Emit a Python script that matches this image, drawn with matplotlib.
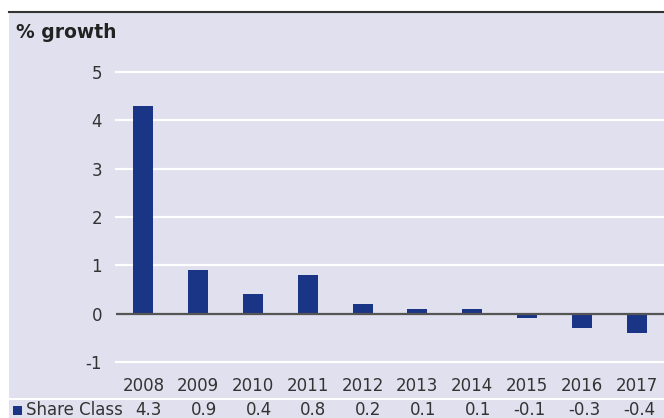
import matplotlib
matplotlib.use("Agg")
import matplotlib.pyplot as plt
from matplotlib.patches import Rectangle
from matplotlib.lines import Line2D

# data
years = ['2008', '2009', '2010', '2011', '2012', '2013', '2014', '2015', '2016', '2017']
growth = [4.3, 0.9, 0.4, 0.8, 0.2, 0.1, 0.1, -0.1, -0.3, -0.4]
value_labels = ['4.3', '0.9', '0.4', '0.8', '0.2', '0.1', '0.1', '-0.1', '-0.3', '-0.4']
yticks = [-1, 0, 1, 2, 3, 4, 5]
series_name = 'Share Class'

W, H = 664, 418
bg = '#e0e0ee'
bar_color = '#1b3586'
text_color = '#333333'

fig = plt.figure(figsize=(W / 100, H / 100), dpi=100, facecolor='white')

def fx(px):
    return px / W

def fy(py):
    return 1 - py / H

# lavender panel + dark rule at the top
fig.patches.append(Rectangle((fx(9), 0), fx(W - 9), fy(12), transform=fig.transFigure,
                             facecolor=bg, edgecolor='none', zorder=-5))
fig.lines.append(Line2D([fx(9), 1], [fy(11.5), fy(11.5)], transform=fig.transFigure,
                        color='#333333', lw=1.5))
# white separator above the table row
fig.lines.append(Line2D([fx(9), 1], [fy(398.5), fy(398.5)], transform=fig.transFigure,
                        color='white', lw=1.5))

fig.text(fx(16), fy(33), '% growth', fontsize=13.5, fontweight='bold',
         color='#222222', va='center', ha='left')

ax_top, ax_bot = 72, 362
ax = fig.add_axes([fx(116), fy(ax_bot), 1 - fx(116), (ax_bot - ax_top) / H])
ax.set_facecolor('none')

x = list(range(len(years)))
ax.set_xlim(-0.5, len(years) - 0.5)
ax.set_ylim(-1, 5)

for t in yticks:
    if t != 0:
        ax.axhline(t, color='white', lw=1.6, zorder=1, clip_on=False)
ax.bar(x, growth, width=0.365, color=bar_color, zorder=2)
ax.axhline(0, color='#555555', lw=1.6, zorder=3)

for s in ax.spines.values():
    s.set_visible(False)
ax.set_yticks(yticks)
ax.set_yticklabels([str(t) for t in yticks])
ax.tick_params(axis='y', length=0, pad=10, labelsize=12, labelcolor=text_color)
ax.set_xticks(x)
ax.set_xticklabels(years)
ax.tick_params(axis='x', length=0, pad=10.5, labelsize=12, labelcolor=text_color)

# table row under the axis labels
trans = ax.get_xaxis_transform()
row_y = (ax_bot - 410) / (ax_bot - ax_top)
for xi, lab in zip(x, value_labels):
    ax.text(xi + 0.34, row_y, lab, transform=trans, ha='right', va='center',
            fontsize=12, color=text_color, clip_on=False)
fig.patches.append(Rectangle((fx(13), fy(415)), fx(9), 9 / H, transform=fig.transFigure,
                             facecolor=bar_color, edgecolor='none'))
fig.text(fx(26), fy(410), series_name, fontsize=12, color=text_color,
         va='center', ha='left')

fig.savefig('out.png', dpi=100, facecolor='white')
